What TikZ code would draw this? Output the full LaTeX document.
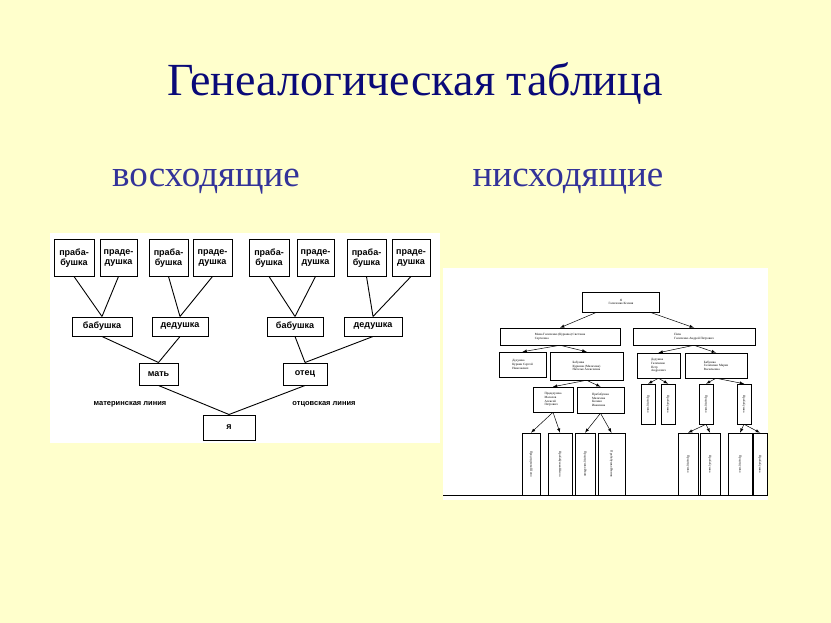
\documentclass[tikz,border=0pt]{standalone}
\usepackage{fontspec}
\setmainfont{Liberation Serif}
\newfontfamily\lsans{Liberation Sans}
\begin{document}
\begin{tikzpicture}[x=1pt,y=-1pt,
  bx/.style={draw,line width=1pt,fill=white,inner sep=0pt,align=center,font=\lsans\bfseries\fontsize{9}{9.5}\selectfont},
  ln/.style={line width=0.9pt},
  sb/.style={draw,line width=0.5pt,fill=white,inner sep=0.5pt,align=left,font=\fontsize{3.2}{3.6}\selectfont},
  sl/.style={line width=0.5pt,-latex}]
\fill[fill={rgb,255:red,255;green,255;blue,204}] (0,0) rectangle (831,623);
\useasboundingbox (0,0) rectangle (831,623);
\node[font=\fontsize{46}{50}\selectfont,text={rgb,255:red,10;green,10;blue,120}] (title) at (415,83) {Генеалогическая таблица};
\node[font=\fontsize{37}{40}\selectfont,text={rgb,255:red,51;green,51;blue,153}] (asc) at (206,182) {восходящие};
\node[font=\fontsize{37}{40}\selectfont,text={rgb,255:red,51;green,51;blue,153}] (desc) at (568,182) {нисходящие};
% left panel
\fill[white] (50,233) rectangle (440,443);
\foreach \n/\a/\b/\t in {t1/54/94/{праба-\\бушка},t2/100/137/{праде-\\душка},t3/149/188/{праба-\\бушка},t4/193/232/{праде-\\душка},t5/249/289/{праба-\\бушка},t6/297/334/{праде-\\душка},t7/347/386/{праба-\\бушка},t8/392/430/{праде-\\душка}}
  \node[bx,minimum width=\b-\a,minimum height=36] (\n) at ({(\a+\b)/2},258) {\t};
\foreach \n/\a/\b/\t in {m1/72/132/бабушка,m2/152/208/дедушка,m3/267/323/бабушка,m4/344/402/дедушка}
  \node[bx,minimum width=\b-\a,minimum height=19] (\n) at ({(\a+\b)/2},326.5) {\t};
\node[bx,minimum width=39,minimum height=22] (mom) at (158.5,374) {мать};
\node[bx,minimum width=44,minimum height=22] (dad) at (305,374) {отец};
\node[bx,minimum width=52,minimum height=25] (me) at (229,427.5) {я};
\draw[ln] (t1.south)--(m1.north) (t2.south)--(m1.north) (t3.south)--(m2.north) (t4.south)--(m2.north)
  (t5.south)--(m3.north) (t6.south)--(m3.north) (t7.south)--(m4.north) (t8.south)--(m4.north)
  (m1.south)--(mom.north) (m2.south)--(mom.north) (m3.south)--(dad.north) (m4.south)--(dad.north)
  (mom.south)--(me.north) (dad.south)--(me.north);
\node[font=\lsans\bfseries\fontsize{7.5}{8}\selectfont] (ml) at (130,404) {материнская линия};
\node[font=\lsans\bfseries\fontsize{7.5}{8}\selectfont] (ol) at (324,404) {отцовская линия};
% right panel
\fill[white] (443,268) rectangle (768,500);
\node[sb,minimum width=77,minimum height=20,align=center] (r0) at (621,302) {Я\\Галиченко Ксения};
\node[sb,minimum width=120,minimum height=17] (r1) at (560,336.5) {Мама Галиченко (Куркина) Светлана\\Сергеевна};
\node[sb,minimum width=122,minimum height=17] (r2) at (694,336.5) {Папа\\Галиченко Андрей Петрович};
\node[sb,minimum width=47,minimum height=25] (r3) at (522.5,364.5) {Дедушка\\Куркин Сергей\\Николаевич};
\node[sb,minimum width=73,minimum height=28] (r4) at (586.5,366) {Бабушка\\Куркина (Малахова)\\Наталья Алексеевна};
\node[sb,minimum width=43,minimum height=25] (r5) at (658.5,365.5) {Дедушка\\Галиченко\\Петр\\Андреевич};
\node[sb,minimum width=62,minimum height=25] (r6) at (716,365.5) {Бабушка\\Галиченко Мария\\Васильевна};
\node[sb,minimum width=40,minimum height=25] (r7) at (553,399.5) {Прадедушка\\Малахов\\Алексей\\Петрович};
\node[sb,minimum width=47,minimum height=26] (r8) at (600.5,400) {Прабабушка\\Малахова\\Ксения\\Ивановна};
\draw[sl] (r0)--(r1.north); \draw[sl] (r0)--(r2.north);
\draw[sl] (r1.south)--(r3.north); \draw[sl] (r1.south)--(r4.north);
\draw[sl] (r2.south)--(r5.north); \draw[sl] (r2.south)--(r6.north);
\draw[sl] (r4.south)--(r7.north); \draw[sl] (r4.south)--(r8.north);
\foreach \n/\a/\b/\t in {b1/522/540/Прадедушка Шило,b2/548/572/Прабабушка Шило,b3/575/595/Прадедушка Ивин,b4/598/625/Прабабушка Ивина,b5/678/698/Прадедушка,b6/700/720/Прабабушка,b7/728/752/Прадедушка,b8/753/767/Прабабушка}
  \node[sb,minimum width=\b-\a,minimum height=62] (\n) at ({(\a+\b)/2},464) {\rotatebox{-90}{\t}};
\foreach \n/\x/\t in {c1/648/Прадедушка,c2/668/Прабабушка,c3/706/Прадедушка,c4/744/Прабабушка}
  \node[sb,minimum width=14,minimum height=40] (\n) at (\x,404) {\rotatebox{-90}{\t}};
\draw[sl] (r7.south)--(b1.north); \draw[sl] (r7.south)--(b2.north);
\draw[sl] (r8.south)--(b3.north); \draw[sl] (r8.south)--(b4.north);
\draw[sl] (r5.south)--(c1.north); \draw[sl] (r5.south)--(c2.north);
\draw[sl] (r6.south)--(c3.north); \draw[sl] (r6.south)--(c4.north);
\draw[sl] (c3.south)--(b5.north); \draw[sl] (c3.south)--(b6.north);
\draw[sl] (c4.south)--(b7.north); \draw[sl] (c4.south)--(b8.north);
\coordinate (bl) at (443,495); \coordinate (br) at (768,495);
\draw[line width=1pt] (bl)--(br);
\end{tikzpicture}
\end{document}
